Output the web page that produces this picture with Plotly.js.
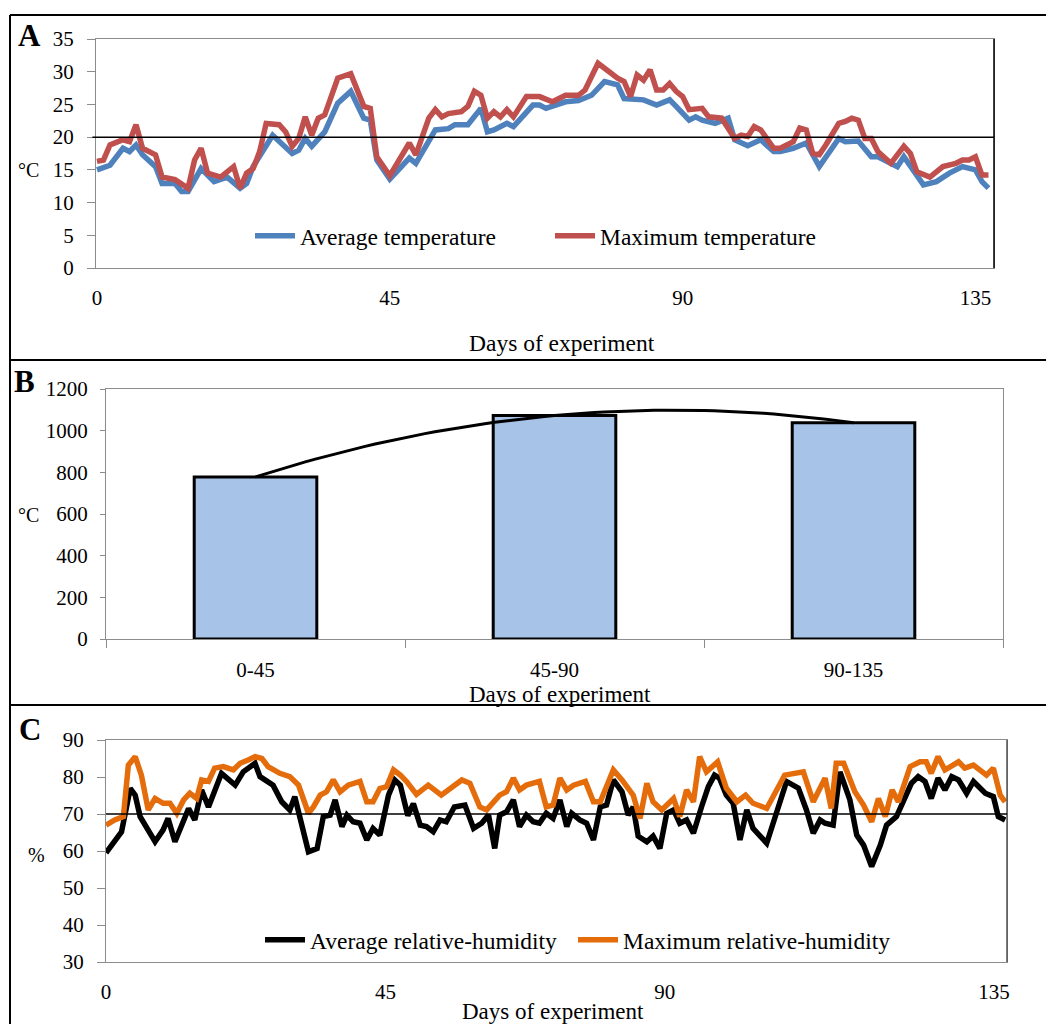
<!DOCTYPE html>
<html><head><meta charset="utf-8">
<script src="https://cdn.plot.ly/plotly-3.0.1.min.js"></script>
<style>html,body{margin:0;padding:0;background:#fff}</style>
</head><body><div id="chart" style="width:1046px;height:1024px"></div>
<script>
// ---------- Panel A: air temperature (°C) ----------
const avgTempDays = [0,2,4,5,6,7,9,10,12,13,14,16,18,20,22,23,24,27,30,31,32,33,35,37,39,41,42,43,45,48,49,52,54,55,57,59,60,61,63,64,67,68,69,72,74,76,78,80,81,84,86,88,89,91,92,93,95,97,98,100,102,104,105,107,109,111,114,115,117,119,120,123,124,127,129,131,133,135,136,137];
const avgTemp = [15.0,15.7,18.3,17.8,18.8,17.3,15.5,12.9,12.9,11.7,11.7,15.2,13.2,13.9,12.2,12.9,15.5,20.3,17.5,18.0,19.8,18.6,20.8,25.2,27.0,22.9,22.6,16.5,13.6,16.8,16.0,21.1,21.3,21.9,21.9,24.4,20.8,21.1,22.1,21.6,24.9,24.9,24.4,25.4,25.6,26.4,28.5,28.0,25.9,25.7,24.9,25.7,24.7,22.6,23.1,22.6,22.1,22.9,19.6,18.7,19.6,17.8,17.8,18.3,19.1,15.5,19.8,19.3,19.4,17.0,17.0,15.5,17.0,12.7,13.2,14.5,15.5,15.0,13.2,12.2];
const maxTempDays = [0,1,2,4,5,6,7,9,10,12,14,15,16,17,19,21,22,23,24,25,26,28,29,30,31,32,33,34,35,36,37,39,41,42,43,45,48,49,51,52,53,54,56,57,58,59,60,61,62,63,64,66,68,70,72,74,75,77,80,81,82,83,84,85,86,87,88,89,90,91,93,94,96,98,99,100,101,102,104,105,107,108,109,110,111,112,114,115,116,117,118,119,120,122,124,125,126,128,130,132,133,134,135,136,137];
const maxTemp = [16.3,16.5,18.8,19.6,19.3,21.9,18.3,17.3,13.9,13.5,12.2,16.5,18.3,14.5,13.9,15.5,12.2,14.5,15.2,17.8,22.1,21.9,20.8,18.6,19.8,23.1,20.3,22.9,23.4,26.2,29.0,29.7,24.7,24.4,17.0,14.1,19.1,17.3,22.9,24.2,23.1,23.6,23.9,24.7,27.0,26.4,22.9,23.9,23.1,24.2,23.1,26.2,26.2,25.4,26.4,26.4,27.2,31.3,29.0,28.5,26.2,29.5,28.7,30.3,27.2,27.2,28.2,27.0,26.2,24.2,24.4,23.1,22.9,19.8,20.3,20.1,21.6,21.1,18.3,18.3,19.3,21.4,21.1,17.5,17.3,18.8,22.1,22.4,22.9,22.6,19.8,19.8,17.8,16.0,18.6,17.5,14.7,13.9,15.5,16.0,16.5,16.5,17.0,14.2,14.2];
const tempRef = 20;
const tempTicks = [0,45,90,135];

// ---------- Panel B: accumulated degree-days (°C) ----------
const gddCategories = ['0-45','45-90','90-135'];
const gddValues = [778,1073,1038];

// ---------- Panel C: relative humidity (%) ----------
const avgRHDays = [0,1.4,2.5,3.9,4.7,5.5,6.8,7.9,9.2,10.0,11.1,12.2,13.3,14.3,15.4,16.5,18.6,20.8,22.1,24.0,24.8,26.9,28.3,29.6,30.4,32.6,34.0,35.0,36.1,36.9,38.0,38.8,39.8,40.9,42.0,43.0,44.1,45.5,46.5,47.4,48.6,49.5,50.6,51.6,52.7,53.8,54.8,56.1,57.8,59.2,60.5,61.6,62.6,63.4,64.5,65.6,66.6,67.7,68.8,69.8,70.9,72.0,73.1,74.2,75.0,76.3,77.4,78.5,79.6,80.6,81.7,83.1,84.1,84.9,85.7,87.1,88.1,89.2,90.3,91.4,92.4,93.5,94.6,95.9,97.0,98.0,98.8,99.9,101.0,102.1,103.2,104.2,106.4,109.6,111.5,112.8,113.9,115.0,115.8,117.1,118.2,119.8,120.9,122.0,123.3,124.7,125.7,127.3,128.4,129.7,130.8,131.9,132.9,134.0,135.1,136.2,137.3,138.6,139.7,141.6,142.9,143.7,144.8];
const avgRH = [59.5,62.5,65.2,76.9,75.1,69.3,65.7,62.5,65.7,68.8,62.5,67.0,71.5,68.4,76.5,71.9,81.0,77.8,81.4,83.7,80.1,77.8,73.3,71.1,74.7,59.8,60.7,69.3,69.7,73.8,66.6,69.7,67.9,67.5,63.0,66.1,64.3,75.1,79.2,77.8,69.6,72.8,67.0,66.6,65.2,68.4,67.9,71.9,72.4,66.1,67.5,69.7,60.7,69.7,70.6,73.8,66.6,69.7,67.9,67.5,70.2,68.8,73.8,66.6,70.2,68.4,67.5,63.0,71.9,72.4,79.2,76.0,69.7,71.9,64.0,62.5,64.0,60.7,70.2,71.1,67.5,68.4,64.8,71.9,77.4,80.5,79.7,75.1,72.9,63.0,71.1,66.1,62.1,78.8,77.0,71.1,64.8,68.4,67.5,67.0,81.4,73.8,64.3,61.6,55.8,61.6,67.0,69.3,73.3,78.3,80.1,78.8,74.2,79.7,76.5,80.1,79.2,75.6,78.8,75.6,74.7,69.3,68.4];
const maxRHDays = [0,1.4,2.8,3.6,4.7,5.7,6.8,7.9,9.2,10.3,11.4,12.5,13.5,14.6,15.4,16.5,17.5,18.9,20.5,21.6,22.9,24.0,25.1,26.1,28.0,29.6,31.0,32.6,33.4,34.5,35.5,36.6,37.7,39.0,40.9,42.0,43.0,44.1,45.2,46.3,47.4,48.4,50.0,51.9,54.0,57.3,58.6,60.2,61.3,63.4,64.5,65.6,66.6,67.7,69.8,70.9,72.0,73.1,74.2,75.3,77.2,78.5,79.6,81.7,83.1,84.9,86.0,87.1,88.1,89.5,91.4,92.4,93.5,94.6,95.6,96.7,98.5,99.9,101.6,103.0,104.2,106.4,109.3,112.3,113.9,115.8,116.8,117.6,118.8,120.6,122.0,123.3,124.4,125.5,126.6,127.6,129.5,131.1,132.1,132.9,134.0,135.1,137.3,138.3,139.7,141.8,142.9,144.0,144.8];
const maxRH = [67.0,68.4,69.3,83.2,85.5,80.5,71.1,74.2,72.9,72.9,70.2,73.8,75.6,74.2,79.2,78.8,82.4,82.8,81.9,83.7,84.6,85.5,85.0,82.8,81.0,80.1,77.8,70.2,71.9,75.1,76.0,79.2,76.0,77.8,78.8,73.3,73.3,76.9,77.4,81.9,80.5,78.8,75.3,77.8,75.1,79.2,78.3,71.9,71.1,75.1,76.0,79.7,76.5,77.8,78.8,71.9,72.4,79.7,76.5,77.8,78.8,73.3,73.3,81.9,79.2,75.1,68.8,78.3,73.3,71.1,74.2,69.3,76.5,73.3,85.5,81.4,84.1,77.0,73.3,75.1,72.9,71.5,80.5,81.4,73.3,79.7,71.5,83.7,83.7,76.0,72.4,67.9,74.2,69.3,76.5,73.3,82.8,84.1,84.1,81.0,85.5,81.9,84.1,82.4,83.2,80.5,82.4,75.1,73.3];
const rhRef = 70;
const rhTickVals = [0,45,90,143];
const rhTickText = ['0','45','90','135'];

// ---------- helpers ----------
const W = 1046, H = 1024;
const px = x => x / W;
const py = y => 1 - y / H;
const FONT = 'Liberation Serif';
const GREY = '#8c8c8c';

// Polynomial (order 2) trendline of the bar values, as drawn in the source
function quadTrend(vals, steps) {
  const [y0, y1, y2] = vals;
  const a = (y2 - 2 * y1 + y0) / 2, b = y1 - y0 - a, c = y0;
  const xs = [], ys = [];
  for (let i = 0; i <= steps; i++) { const t = 2 * i / steps; xs.push(t); ys.push(a * t * t + b * t + c); }
  return {xs, ys};
}
const trend = quadTrend(gddValues, 60);

const traces = [
  {x: avgTempDays, y: avgTemp, type: 'scatter', mode: 'lines', name: 'Average temperature',
   line: {color: '#4F81BD', width: 5.5}, xaxis: 'x', yaxis: 'y', legend: 'legend'},
  {x: maxTempDays, y: maxTemp, type: 'scatter', mode: 'lines', name: 'Maximum temperature',
   line: {color: '#C0504D', width: 5.5}, xaxis: 'x', yaxis: 'y', legend: 'legend', legendwidth: 280},
  {x: gddCategories, y: gddValues, type: 'bar', width: 0.41, showlegend: false,
   marker: {color: '#A7C4E8', line: {color: '#000', width: 3}}, xaxis: 'x2', yaxis: 'y2'},
  {x: trend.xs, y: trend.ys, type: 'scatter', mode: 'lines', showlegend: false,
   line: {color: '#000', width: 3}, xaxis: 'x4', yaxis: 'y2'},
  {x: avgRHDays, y: avgRH, type: 'scatter', mode: 'lines', name: 'Average relative-humidity',
   line: {color: '#000', width: 5.5}, xaxis: 'x3', yaxis: 'y3', legend: 'legend2'},
  {x: maxRHDays, y: maxRH, type: 'scatter', mode: 'lines', name: 'Maximum relative-humidity',
   line: {color: '#E46C0A', width: 5.5}, xaxis: 'x3', yaxis: 'y3', legend: 'legend2', legendwidth: 300}
];

const tickFont = {family: FONT, size: 21, color: '#000'};
const baseAxis = {showgrid: false, zeroline: false, showline: true, linecolor: GREY, linewidth: 1,
  mirror: true, tickcolor: GREY, tickfont: tickFont, fixedrange: true};

function note(text, x, y, size) {
  return {text: text, xref: 'paper', yref: 'paper', x: px(x), y: py(y), xanchor: 'center', yanchor: 'middle',
    showarrow: false, font: {family: FONT, size: size, color: '#000'}};
}

const layout = {
  width: W, height: H, margin: {l: 0, r: 0, t: 0, b: 0},
  paper_bgcolor: '#fff', plot_bgcolor: 'rgba(0,0,0,0)',
  font: {family: FONT, color: '#000'},
  xaxis: Object.assign({}, baseAxis, {domain: [px(96), px(994)], range: [-0.15, 137.85], anchor: 'y',
    tickmode: 'array', tickvals: tempTicks, ticks: '', ticklabelstandoff: 11}),
  yaxis: Object.assign({}, baseAxis, {domain: [py(268), py(39)], range: [0, 35], dtick: 5, anchor: 'x',
    ticks: 'outside', ticklen: 8, ticklabelstandoff: 9}),
  xaxis2: Object.assign({}, baseAxis, {domain: [px(106), px(1003)], type: 'category', range: [-0.5, 2.5], anchor: 'y2',
    tickson: 'boundaries', ticks: 'outside', ticklen: 8, ticklabelstandoff: 12}),
  yaxis2: Object.assign({}, baseAxis, {domain: [py(639), py(389)], range: [0, 1200], dtick: 200, anchor: 'x2',
    ticks: 'outside', ticklen: 5, ticklabelstandoff: 8}),
  xaxis4: {overlaying: 'x2', anchor: 'y2', range: [-0.5, 2.5], visible: false, fixedrange: true},
  xaxis3: Object.assign({}, baseAxis, {domain: [px(106), px(1007)], range: [0, 145.1], anchor: 'y3',
    tickmode: 'array', tickvals: rhTickVals, ticktext: rhTickText, ticks: '', ticklabelstandoff: 11}),
  yaxis3: Object.assign({}, baseAxis, {domain: [py(962), py(740)], range: [30, 90], dtick: 10, anchor: 'x3',
    ticks: 'outside', ticklen: 8, ticklabelstandoff: 9}),
  legend: {orientation: 'h', x: px(250), xanchor: 'left', y: py(236), yanchor: 'middle',
    bgcolor: 'rgba(0,0,0,0)', borderwidth: 0, itemwidth: 40, entrywidthmode: 'pixels', entrywidth: 245,
    font: {family: FONT, size: 23.5, color: '#000'}},
  legend2: {orientation: 'h', x: px(260), xanchor: 'left', y: py(940), yanchor: 'middle',
    bgcolor: 'rgba(0,0,0,0)', borderwidth: 0, itemwidth: 40, entrywidthmode: 'pixels', entrywidth: 258,
    font: {family: FONT, size: 23.5, color: '#000'}},
  shapes: [
    // outer frame and panel separators
    {type: 'line', xref: 'paper', yref: 'paper', x0: px(10), x1: 1, y0: py(15), y1: py(15), line: {color: '#000', width: 2}},
    {type: 'line', xref: 'paper', yref: 'paper', x0: px(10), x1: px(10), y0: py(15), y1: 0, line: {color: '#000', width: 2}},
    {type: 'line', xref: 'paper', yref: 'paper', x0: px(10), x1: 1, y0: py(360), y1: py(360), line: {color: '#000', width: 2}},
    {type: 'line', xref: 'paper', yref: 'paper', x0: px(10), x1: 1, y0: py(705), y1: py(705), line: {color: '#000', width: 2}},
    // panel A right border and 20 °C reference line
    {type: 'line', xref: 'x domain', yref: 'y domain', x0: 1, x1: 1, y0: 0, y1: 1, line: {color: '#000', width: 1.5}},
    {type: 'line', xref: 'x domain', yref: 'y', x0: -0.004, x1: 1, y0: tempRef, y1: tempRef, line: {color: '#000', width: 1.5}},
    // panel C right border and 70 % reference line
    {type: 'line', xref: 'x3 domain', yref: 'y3 domain', x0: 1, x1: 1, y0: 0, y1: 1, line: {color: '#555', width: 1.5}},
    {type: 'line', xref: 'x3 domain', yref: 'y3', x0: 0, x1: 1, y0: rhRef, y1: rhRef, line: {color: '#000', width: 1.5}}
  ],
  annotations: [
    note('<b>A</b>', 29, 35, 31),
    note('<b>B</b>', 24, 381, 31),
    note('<b>C</b>', 30, 729, 31),
    note('°C', 28, 170, 20),
    note('°C', 28, 515, 20),
    note('%', 36, 855, 20),
    note('Days of experiment', 562, 343, 23.5),
    note('Days of experiment', 560, 694, 23),
    note('Days of experiment', 553, 1011, 23)
  ]
};

Plotly.newPlot('chart', traces, layout, {displayModeBar: false, staticPlot: true});
</script>
</body></html>
